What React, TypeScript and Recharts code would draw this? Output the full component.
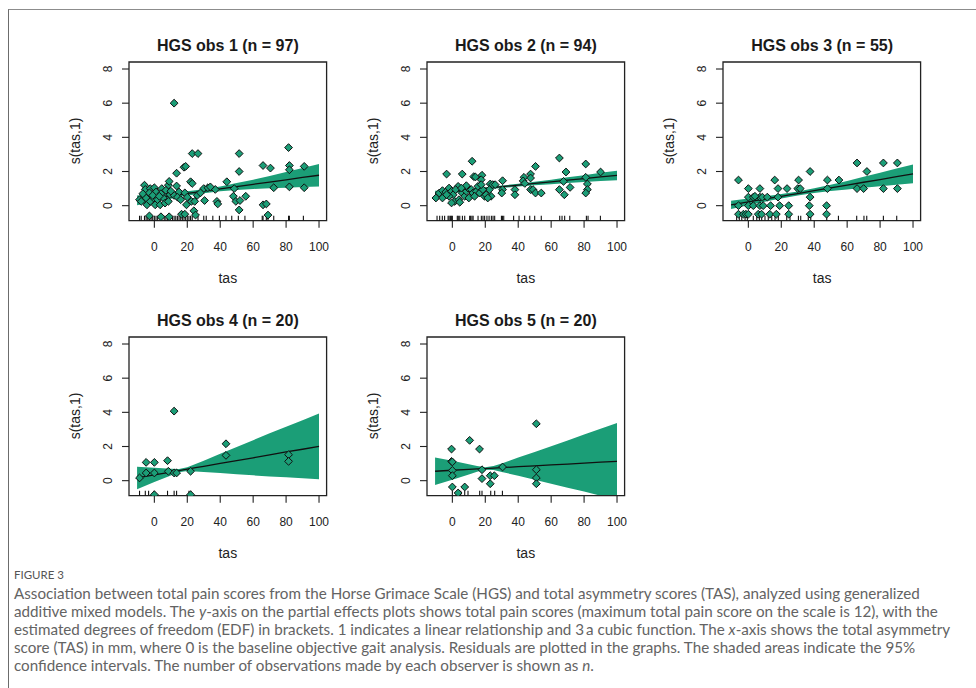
import React from 'react';
import { ComposedChart, XAxis, YAxis, Area, Line, Scatter, ReferenceArea } from 'recharts';

// ---------- data ----------
const X_DOMAIN: [number, number] = [-15.4, 104.6];
const Y_DOMAIN: [number, number] = [-0.88, 8.41];
const X_TICKS = [0, 20, 40, 60, 80, 100];
const Y_TICKS = [0, 2, 4, 6, 8];
const BAND_X = [-10.5, 0, 10, 15, 20, 25, 30, 40, 50, 60, 70, 80, 90, 100];

const TITLES = ['HGS obs 1 (n = 97)', 'HGS obs 2 (n = 94)', 'HGS obs 3 (n = 55)', 'HGS obs 4 (n = 20)', 'HGS obs 5 (n = 20)'];

const p1Fit = [0.31, 0.45, 0.58, 0.65, 0.72, 0.78, 0.85, 0.98, 1.12, 1.25, 1.38, 1.51, 1.65, 1.78];
const p1Half = [0.28, 0.22, 0.17, 0.15, 0.13, 0.12, 0.12, 0.14, 0.2, 0.27, 0.36, 0.46, 0.56, 0.66];
const p2Fit = [0.72, 0.82, 0.92, 0.96, 1.01, 1.06, 1.11, 1.2, 1.3, 1.39, 1.49, 1.58, 1.68, 1.77];
const p2Half = [0.15, 0.11, 0.08, 0.07, 0.065, 0.065, 0.07, 0.08, 0.1, 0.13, 0.17, 0.2, 0.24, 0.28];
const p3Fit = [0.05, 0.22, 0.39, 0.47, 0.55, 0.63, 0.71, 0.88, 1.04, 1.2, 1.37, 1.53, 1.7, 1.86];
const p3Half = [0.24, 0.2, 0.16, 0.14, 0.13, 0.12, 0.12, 0.14, 0.18, 0.25, 0.32, 0.4, 0.48, 0.55];
const p4Fit = [0.16, 0.34, 0.5, 0.59, 0.67, 0.76, 0.84, 1.01, 1.17, 1.34, 1.51, 1.68, 1.84, 2.01];
const p4Half = [0.66, 0.42, 0.2, 0.1, 0.11, 0.22, 0.33, 0.56, 0.8, 1.03, 1.26, 1.48, 1.7, 1.92];
const p5Fit = [0.55, 0.61, 0.66, 0.69, 0.71, 0.74, 0.76, 0.82, 0.87, 0.92, 0.97, 1.03, 1.08, 1.13];
const p5Half = [0.8, 0.55, 0.3, 0.17, 0.07, 0.12, 0.25, 0.53, 0.81, 1.1, 1.38, 1.67, 1.96, 2.25];

const p1Points: [number, number][] = [
  [12, 6.0], [23, 3.05], [26.5, 3.05], [51.5, 3.05], [81.5, 3.4], [13.5, 1.9], [18, 2.25], [19, 2.3], [51.5, 2.0],
  [66, 2.35], [70.5, 2.2], [82, 2.35], [82, 2.1], [91, 2.3], [22, 1.4], [23, 1.3], [-6, 1.2], [-5.5, 0.95],
  [-2.5, 1.0], [0, 1.05], [4.5, 1.0], [8.5, 1.2], [9, 1.42], [13.5, 1.15], [30, 1.0], [32.5, 1.05], [37, 0.95],
  [44, 1.4], [48.5, 1.0], [72.5, 1.05], [82, 1.1], [91, 1.05], [-9, 0.35], [-8, 0.25], [-5, 0.45], [-4.5, 0.05],
  [-2.5, 0.25], [-0.5, 0.45], [0.5, 0.05], [2, 0.35], [3.5, 0.05], [5.5, 0.45], [6.5, 0.15], [8.5, 0.25],
  [9.5, 0.65], [12, 0.6], [-7, 0.7], [-3, 0.75], [1, 0.8], [4, 0.7], [7, 0.9], [10, 0.85], [-1, 0.6], [3, 0.55],
  [15, 0.8], [14, 0.5], [16, 0.35], [18.5, 0.75], [19.5, 0.05], [22.5, 0.25], [24.5, 0.25], [30.5, 0.3],
  [38, 0.25], [38.5, 0.1], [48, 0.55], [49.5, 0.25], [55.5, 0.55], [52, 0.3], [51.5, -0.25], [66, 0.05],
  [68, 0.1], [69, -0.55], [16.5, -0.5], [18.5, -0.5], [24, -0.3], [25, -0.55], [-3, -0.6], [4, -0.65],
  [9, -0.65], [20, 0.5], [26, 0.6], [34, 1.1], [28, 0.75],
];
const p2Points: [number, number][] = [
  [12, 2.6], [-3.5, 1.85], [6, 1.85], [13, 1.7], [14, 1.68], [18, 1.78], [17.5, 1.52], [30.5, 1.46], [43.5, 1.66],
  [47.5, 1.85], [47.5, 1.62], [50.5, 2.3], [65, 2.79], [69, 1.97], [81, 2.44], [90, 1.97], [67.5, 1.42],
  [71.5, 1.07], [65, 0.94], [68, 0.64], [81, 1.66], [82, 1.27], [82, 0.94], [81, 0.74], [38, 0.94], [38, 0.64],
  [47.5, 0.94], [49, 0.94], [50.5, 0.74], [54, 0.74], [30.5, 0.94], [30, 0.74], [23, 1.27], [24.5, 1.23],
  [26, 1.23], [22.5, 0.94], [23.5, 0.55], [-10, 0.45], [-8, 0.74], [-6, 0.88], [-4, 0.8], [-2, 1.03],
  [-0.5, 0.84], [0.5, 0.64], [1.5, 0.25], [3.5, 1.13], [4, 0.35], [4.5, 0.2], [6, 0.74], [7.5, 0.55],
  [8.5, 0.84], [9.5, 1.03], [10, 0.45], [11.5, 0.94], [12.5, 0.74], [14.5, 0.84], [15.5, 1.13], [16.5, 0.74],
  [18.5, 0.94], [19.5, 0.55], [20.5, 0.64], [21.5, 0.45], [-0.5, 0.16], [-2, 0.55], [8.5, 1.17], [-6, 0.45],
  [-3.5, 0.64], [2, 0.94], [5.5, 1.03], [13.5, 0.55], [17.5, 1.23], [43, 1.45], [44, 1.3],
];
const p3Points: [number, number][] = [
  [-6, 1.5], [16, 1.5], [30.5, 1.5], [48, 1.5], [55, 1.5], [37.5, 2.0], [72, 2.0], [66, 2.5], [82, 2.5], [90.5, 2.5],
  [0, 1], [7, 1], [18, 1], [23.5, 1], [30, 1], [31.5, 1], [48, 1], [66, 1], [70, 1], [82, 1], [90.5, 1],
  [0, 0.5], [3, 0.5], [7, 0.5], [8.5, 0.5], [11.5, 0.5], [18, 0.5], [37.5, 0.5], [4, 0.55],
  [-6, 0], [0, 0], [3, 0], [7, 0], [9, 0], [13.5, 0], [19, 0], [24.5, 0], [37, 0], [47.5, 0],
  [-6, -0.5], [-3, -0.5], [-1.5, -0.5], [0, -0.5], [6, -0.5], [8, -0.5], [13, -0.5], [17, -0.5], [24.5, -0.5],
  [37.5, -0.5], [47.5, -0.5],
];
const p4Points: [number, number][] = [
  [12, 4.07], [-5, 1.07], [0, 1.07], [8, 1.17], [43.5, 2.16], [43.5, 1.48], [81.5, 1.52], [81.5, 1.13],
  [-9, 0.16], [-5, 0.45], [0, 0.45], [8.5, 0.55], [12, 0.45], [13.5, 0.45], [22, 0.55], [0, -0.82], [22, -0.82],
];
const p5Points: [number, number][] = [
  [51, 3.33], [10.5, 2.36], [-0.5, 1.85], [16.5, 1.85], [-0.5, 1.13], [0, 1.1], [0, 0.6], [0, 0.29], [18, 0.64],
  [30.5, 0.8], [18, 0.12], [23, 0.29], [25.5, 0.29], [23, -0.18], [0, -0.37], [3.5, -0.72], [7.5, -0.37],
  [51, 0.64], [51, 0.16], [51, -0.18],
];

const p1Rug = [-9, -8, -6, -5, -4, -3, -2, -1, 0, 1, 2, 4, 6, 7, 8, 9, 11, 12, 13, 14, 15, 16, 17, 18, 19, 20, 21, 22, 23,
  26.5, 30, 31.5, 35.5, 39.5, 43.5, 47, 51, 55, 65.5, 66, 68, 69, 72.5, 81.5, 82, 90.5];
const p2Rug = [-9.3, -7.7, -6.1, -4.7, -2.6, -2, -1.2, -0.6, 0, 3, 3.6, 4.5, 6.1, 7.5, 10.5, 11.1, 11.9, 12.6, 15.6,
  17.6, 18.6, 19.6, 21, 22.3, 23.7, 24.7, 25.7, 29.8, 30.4, 31.2, 37.2, 40.5, 43.9, 47, 50, 54, 65.2, 66.6, 68.2,
  71.3, 81.4, 82.4, 89.9];
const p3Rug = [-7.1, -5.5, -4, -2, -0.6, 3, 5.1, 6.7, 8.1, 10.1, 12.1, 14.2, 16.2, 18.2, 23.3, 25.3, 30.4, 31.8, 36.4,
  37.9, 47.6, 54.7, 65.8, 70.2, 71.9, 82, 90.1];
const p4Rug = [-9, -5.5, -3.5, 0, 8, 12, 13.5, 21, 22];
const p5Rug = [0, 3.4, 5.1, 7.5, 9.5, 16.6, 18, 23.3, 25.7, 30.4];

const CAPTION_LINES = [
  ['Association between total pain scores from the Horse Grimace Scale (HGS) and total asymmetry scores (TAS), analyzed using generalized'],
  ['additive mixed models. The ', 'i:y', '-axis on the partial effects plots shows total pain scores (maximum total pain score on the scale is 12), with the'],
  ['estimated degrees of freedom (EDF) in brackets. 1 indicates a linear relationship and 3\u2009a cubic function. The ', 'i:x', '-axis shows the total asymmetry'],
  ['score (TAS) in mm, where 0 is the baseline objective gait analysis. Residuals are plotted in the graphs. The shaded areas indicate the 95%'],
  ['confidence intervals. The number of observations made by each observer is shown as ', 'i:n', '.'],
];

// ---------- layout / style ----------
const BOX_W = 197.6;
const BOX_H = 158.7;
const CW = 300;
const CH = 260;
const ML = 80;
const MT = 40;
const AX = 30; // axis band size reserved inside margins
const GREEN = '#1b9e77';
const FONT = '"Liberation Sans", Arial, sans-serif';

const PANELS = [
  { fit: p1Fit, half: p1Half, points: p1Points, rug: p1Rug, left: 129, top: 62 },
  { fit: p2Fit, half: p2Half, points: p2Points, rug: p2Rug, left: 427, top: 62 },
  { fit: p3Fit, half: p3Half, points: p3Points, rug: p3Rug, left: 723.3, top: 62 },
  { fit: p4Fit, half: p4Half, points: p4Points, rug: p4Rug, left: 129, top: 337 },
  { fit: p5Fit, half: p5Half, points: p5Points, rug: p5Rug, left: 427, top: 337 },
];

const Diamond = (props: any) => {
  const { cx, cy } = props;
  if (cx == null || cy == null) return null;
  const r = 3.9;
  return (
    <polygon
      points={`${cx},${cy - r} ${cx + r},${cy} ${cx},${cy + r} ${cx - r},${cy}`}
      fill={GREEN}
      stroke="#111"
      strokeWidth={1}
    />
  );
};

const RugMark = (props: any) => {
  const { cx, cy } = props;
  if (cx == null || cy == null) return null;
  return <line x1={cx} x2={cx} y1={cy} y2={cy - 5} stroke="#111" strokeWidth={1.1} />;
};

const XTick = (props: any) => {
  const { x, y, payload } = props;
  return (
    <text x={x} y={y} textAnchor="middle" dominantBaseline="central" fontSize={12} fill="#222" fontFamily={FONT}>
      {payload.value}
    </text>
  );
};

const YTick = (props: any) => {
  const { x, y, payload } = props;
  return (
    <text
      x={x}
      y={y}
      transform={`rotate(-90 ${x} ${y})`}
      textAnchor="middle"
      dominantBaseline="central"
      fontSize={12}
      fill="#222"
      fontFamily={FONT}
    >
      {payload.value}
    </text>
  );
};

function Panel({ idx }: { idx: number }) {
  const p = PANELS[idx];
  const band = BAND_X.map((x, i) => ({ x, fit: p.fit[i], range: [p.fit[i] - p.half[i], p.fit[i] + p.half[i]] }));
  const pts = p.points.map(([x, y]) => ({ x, y }));
  const rugPts = p.rug.map((x) => ({ x, y: Y_DOMAIN[0] }));
  const cx = p.left + BOX_W / 2;
  return (
    <>
      <div style={{ position: 'absolute', left: p.left - ML, top: p.top - MT }}>
        <ComposedChart
          width={CW}
          height={CH}
          data={band}
          margin={{ top: MT, left: ML - AX, right: CW - ML - BOX_W, bottom: CH - MT - BOX_H - AX }}
        >
          <XAxis
            type="number"
            dataKey="x"
            domain={X_DOMAIN}
            ticks={X_TICKS}
            allowDataOverflow
            interval={0}
            height={AX}
            tickSize={7}
            tickMargin={19}
            axisLine={false}
            stroke="#222"
            tickLine={{ stroke: '#222', strokeWidth: 1.1 }}
            tick={XTick}
          />
          <YAxis
            type="number"
            dataKey="y"
            domain={Y_DOMAIN}
            ticks={Y_TICKS}
            allowDataOverflow
            interval={0}
            width={AX}
            tickSize={7}
            tickMargin={14}
            axisLine={false}
            stroke="#222"
            tickLine={{ stroke: '#222', strokeWidth: 1.1 }}
            tick={YTick}
          />
          <Area dataKey="range" type="linear" fill={GREEN} fillOpacity={1} stroke="none" isAnimationActive={false} />
          <Line dataKey="fit" type="linear" stroke="#111" strokeWidth={1.3} dot={false} isAnimationActive={false} />
          <Scatter data={rugPts} dataKey="y" shape={RugMark} isAnimationActive={false} />
          <Scatter data={pts} dataKey="y" shape={Diamond} isAnimationActive={false} />
          <ReferenceArea
            x1={X_DOMAIN[0]}
            x2={X_DOMAIN[1]}
            y1={Y_DOMAIN[0]}
            y2={Y_DOMAIN[1]}
            fill="none"
            fillOpacity={0}
            stroke="#222"
            strokeWidth={1.3}
          />
        </ComposedChart>
      </div>
      <div
        style={{
          position: 'absolute',
          left: cx - 150,
          width: 300,
          top: p.top - 16 - 10,
          height: 20,
          lineHeight: '20px',
          textAlign: 'center',
          fontFamily: FONT,
          fontWeight: 'bold',
          fontSize: 16,
          color: '#1a1a1a',
        }}
      >
        {TITLES[idx]}
      </div>
      <div
        style={{
          position: 'absolute',
          left: cx - 50,
          width: 100,
          top: p.top + BOX_H + 57 - 9,
          height: 18,
          lineHeight: '18px',
          textAlign: 'center',
          fontFamily: FONT,
          fontSize: 14,
          color: '#222',
        }}
      >
        tas
      </div>
      <div
        style={{
          position: 'absolute',
          left: p.left - 54 - 50,
          width: 100,
          top: p.top + BOX_H / 2 - 9,
          height: 18,
          lineHeight: '18px',
          textAlign: 'center',
          fontFamily: FONT,
          fontSize: 14,
          color: '#222',
          transform: 'rotate(-90deg)',
        }}
      >
        s(tas,1)
      </div>
    </>
  );
}

export default function App() {
  return (
    <div style={{ position: 'absolute', left: 0, top: 0, width: 976, height: 688, overflow: 'hidden', background: '#fff' }}>
      <div
        style={{
          position: 'absolute',
          left: 8,
          top: 9,
          width: 968,
          height: 679,
          borderTop: '1.5px solid #8c8c8c',
          borderLeft: '1.5px solid #6c6c6c',
          boxSizing: 'border-box',
        }}
      />
      {PANELS.map((_, i) => (
        <Panel key={i} idx={i} />
      ))}
      <div
        style={{
          position: 'absolute',
          left: 14,
          top: 568,
          fontFamily: 'Lato, "Open Sans", sans-serif',
          fontSize: 11.5,
          lineHeight: '14px',
          color: '#555',
          whiteSpace: 'nowrap',
        }}
      >
        FIGURE 3
      </div>
      {CAPTION_LINES.map((parts, i) => (
        <div
          key={i}
          style={{
            position: 'absolute',
            left: 14,
            top: 584 + i * 18,
            height: 18,
            lineHeight: '18px',
            fontFamily: 'Lato, "Open Sans", sans-serif',
            fontSize: 15.2,
            color: '#636363',
            whiteSpace: 'nowrap',
          }}
        >
          {parts.map((s, j) =>
            s.startsWith('i:') ? <i key={j}>{s.slice(2)}</i> : <span key={j}>{s}</span>
          )}
        </div>
      ))}
    </div>
  );
}
